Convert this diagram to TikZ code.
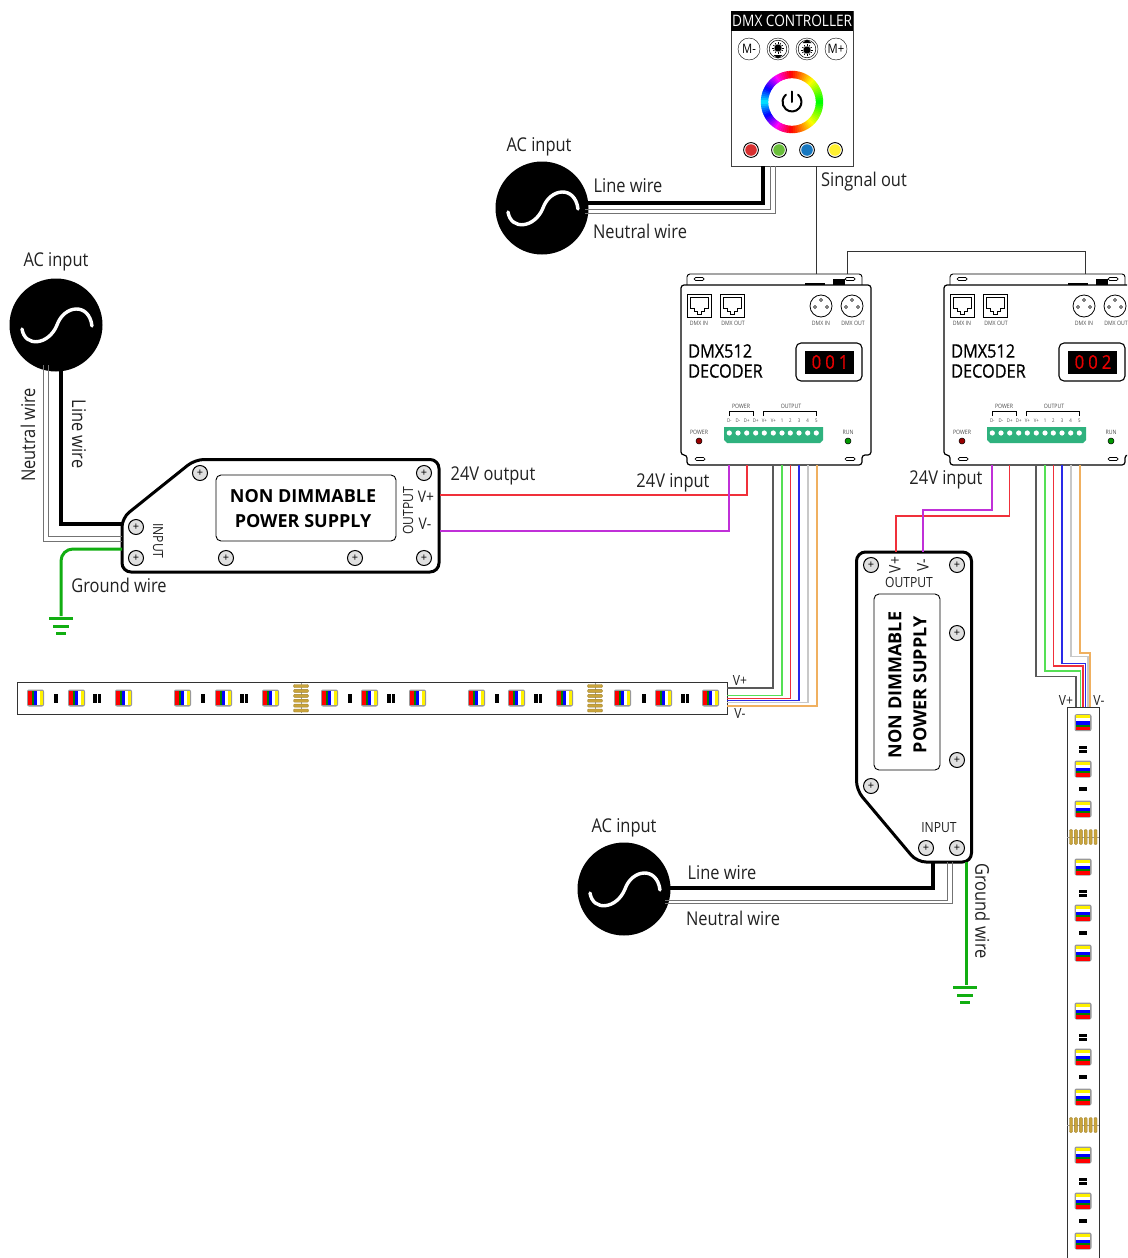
\documentclass[tikz,border=0pt]{standalone}
\usepackage{fontspec}
\setmainfont{Open Sans}
\newfontfamily\lblfont[FakeStretch=0.865]{Open Sans}
\newfontfamily\namefont[FakeStretch=0.88,FakeBold=0.7]{Open Sans}
\usetikzlibrary{calc}
\definecolor{txtgray}{HTML}{222222}
\definecolor{gndgreen}{HTML}{12AE12}
\definecolor{termgreen}{HTML}{2FB27E}
\definecolor{padgold}{HTML}{C9A43C}
\definecolor{psred}{HTML}{F0303A}
\definecolor{psmag}{HTML}{C030D8}
\definecolor{chgreen}{HTML}{55E055}
\definecolor{chblue}{HTML}{2A2AE8}
\definecolor{chgray}{HTML}{C8C8C8}
\definecolor{chorange}{HTML}{F0B060}
\definecolor{ledred}{HTML}{D83030}
\definecolor{ledgreen}{HTML}{6ABF3A}
\definecolor{ledblue}{HTML}{1878C0}
\definecolor{ledyellow}{HTML}{FFF030}
\tikzset{
  lbl/.style={inner sep=0pt, text=txtgray, font=\lblfont\fontsize{19}{21}\selectfont},
  tiny/.style={inner sep=0pt, text=black!70, font=\lblfont\fontsize{6}{7}\selectfont},
  psname/.style={inner sep=0pt, align=center, text=black, font=\bfseries\fontsize{18}{25}\selectfont},
  screwnode/.style={draw, circle, fill=black!12, line width=1pt, minimum size=15pt, inner sep=0pt, font=\fontsize{11}{11}\selectfont},
  hot/.style={line width=3.2pt, black},
  neutral/.style={line width=1pt, black!55},
  gnd/.style={line width=3pt, gndgreen},
  sigwire/.style={line width=1pt, black!80},
  pscase/.style={line width=3pt, rounded corners=9pt, fill=white},
  panel/.style={draw, line width=.9pt, rounded corners=5pt, fill=white},
}
% one AC source with its sine
\newcommand{\acsource}[3]{
  \node[circle, fill=black, minimum size=93pt, inner sep=0pt] (#1) at (#2,#3) {};
  \draw[white, line width=3.4pt, line cap=round] ($(#2,#3)+(-34,4)$) .. controls ($(#2,#3)+(-31,23)$) and ($(#2,#3)+(-7,20)$) .. ($(#2,#3)+(1,0)$)
    .. controls ($(#2,#3)+(8,-20)$) and ($(#2,#3)+(33,-23)$) .. ($(#2,#3)+(36,1)$);
}
% ground symbol, three bars
\newcommand{\gndbars}[2]{
  \draw[gnd] (#1-12,#2) -- (#1+12,#2);
  \draw[gnd] (#1-8,#2+8) -- (#1+8,#2+8);
  \draw[gnd] (#1-5,#2+15) -- (#1+5,#2+15);
}
% led chips, along the strip and across it
\newcommand{\hled}[1]{
  \begin{scope}[shift={(#1,698)}]
    \fill[black!40, rounded corners=2pt] (-8.5,-8.5) rectangle (8.5,8.5);
    \fill[white] (-7.5,-7) rectangle (7.5,7);
    \fill[red] (-7.5,-7) rectangle (-4,7);
    \fill[green!50!black] (-4,-7) rectangle (-2,7);
    \fill[blue] (-2,-7) rectangle (1.5,7);
    \fill[yellow] (4.5,-7) rectangle (7.5,7);
  \end{scope}
}
\newcommand{\vled}[1]{
  \begin{scope}[shift={(1083,#1)}]
    \fill[black!40, rounded corners=2pt] (-8.5,-8.5) rectangle (8.5,8.5);
    \fill[white] (-7,-7.5) rectangle (7,7.5);
    \fill[red] (-7,7.5) rectangle (7,4);
    \fill[green!50!black] (-7,4) rectangle (7,2);
    \fill[blue] (-7,2) rectangle (7,-1.5);
    \fill[yellow] (-7,-4.5) rectangle (7,-7.5);
  \end{scope}
}
% one decoder box
\newcommand{\decoder}[3]{
  \begin{scope}[shift={(#2,0)}]
    \draw[line width=.9pt, fill=white, rounded corners=3pt] (687,285) -- (687,274) -- (862,274) -- (862,285);
    \draw[line width=1.2pt, fill=white, rounded corners=3pt] (681,285) -- (871,285) -- (871,455) -- (862,455) -- (862,465) -- (687,465) -- (687,455) -- (681,455) -- cycle;
    \fill[black] (805,283) rectangle (825,285);
    \fill[black] (833,279) rectangle (845,285);
    \foreach \sx/\sy in {699/279, 850/279, 700/459, 850/459} {
      \draw[line width=.7pt, rounded corners=1.5pt] (\sx-5,\sy-1.5) rectangle (\sx+5,\sy+1.5);
    }
    % rj45 sockets
    \foreach \rx in {687,720} {
      \draw[line width=1pt] (\rx,294) rectangle (\rx+24,317);
      \draw[line width=.8pt] (\rx+3,297) -- (\rx+21,297) -- (\rx+21,308) -- (\rx+17,308) -- (\rx+17,311) -- (\rx+14,311) -- (\rx+14,314) -- (\rx+10,314) -- (\rx+10,311) -- (\rx+7,311) -- (\rx+7,308) -- (\rx+3,308) -- cycle;
    }
    % xlr sockets
    \foreach \rx in {821,852} {
      \draw[line width=.8pt] (\rx,306) circle (11pt);
      \foreach \px/\py in {0/-6, -6/1, 6/1} {
        \draw[line width=.6pt] (\rx+\px,306+\py) circle (1.5pt);
      }
    }
    \node[tiny] (#1rjin) at (699,323) {DMX IN};
    \node[tiny] (#1rjout) at (733,323) {DMX OUT};
    \node[tiny] (#1xlrin) at (821,323) {DMX IN};
    \node[tiny] (#1xlrout) at (853,323) {DMX OUT};
    \node[inner sep=0pt, anchor=west, text=black, font=\namefont\fontsize{18.5}{20}\selectfont] (#1nameA) at (688,351) {DMX512};
    \node[inner sep=0pt, anchor=west, text=black, font=\namefont\fontsize{18.5}{20}\selectfont] (#1nameB) at (688,371) {DECODER};
    \draw[line width=1.1pt, rounded corners=5pt] (796,343) rectangle (862,381);
    \fill[black] (805,351) rectangle (854,374);
    \node[inner sep=0pt, text=red!90!black, font=\namefont\fontsize{19}{20}\selectfont] (#1addr) at (830,362) {#3};
    \node[tiny] (#1power) at (699,432) {POWER};
    \draw[fill=red!60!black, line width=.5pt] (699,441) circle (3pt);
    \node[tiny] (#1run) at (848,432) {RUN};
    \draw[fill=green!60!black, line width=.5pt] (848,441) circle (3pt);
    \node[tiny] (#1powerb) at (741,406) {POWER};
    \node[tiny] (#1outputb) at (791,406) {OUTPUT};
    \draw[line width=.6pt] (729,416) -- (729,411) -- (753,411) -- (753,416);
    \draw[line width=.6pt] (763,416) -- (763,411) -- (816,411) -- (816,416);
    \fill[termgreen] (724,427) -- (823,427) -- (823,440) -- (820,443) -- (727,443) -- (724,440) -- cycle;
    \foreach \tx/\tlab in {729.3/D-, 738/D-, 746.7/D+, 755.7/D+, 764.3/V+, 773.3/V+, 782/1, 790.3/2, 799/3, 807.7/4, 816.3/5} {
      \node[inner sep=0pt, text=black!70, font=\lblfont\fontsize{5}{6}\selectfont] at (\tx,421) {\tlab};
      \fill[white] (\tx,433) circle (2.6pt);
    }
    % where the wires leave
    \coordinate (#1mag) at (729,465);
    \coordinate (#1red) at (746.7,465);
    \coordinate (#1chA) at (773,465);
    \coordinate (#1chB) at (782,465);
    \coordinate (#1chC) at (790.5,465);
    \coordinate (#1chD) at (799,465);
    \coordinate (#1chE) at (808,465);
    \coordinate (#1chF) at (817,465);
    \coordinate (#1sigin) at (816,274);
    \coordinate (#1sigout) at (847,274);
    \coordinate (#1sigtop) at (822,274);
  \end{scope}
}
\begin{document}
\begin{tikzpicture}[x=1pt, y=-1pt]
  \clip (0,0) rectangle (1127,1258);
  \fill[white] (0,0) rectangle (1127,1258);

  % controller
  \draw[line width=1pt, draw=black!75, fill=white] (731,11) rectangle (853,166);
  \node[fill=black, text=white, minimum width=122pt, minimum height=20pt, inner sep=0pt, anchor=north west, font=\lblfont\fontsize{15.8}{16}\selectfont] (ctrlhead) at (731,11) {DMX CONTROLLER};
  \node[draw, circle, minimum size=22pt, inner sep=0pt, font=\lblfont\fontsize{13}{13}\selectfont] (btnA) at (749,49) {M-};
  \node[draw, circle, minimum size=22pt, inner sep=0pt] (btnB) at (778,49) {};
  \node[draw, circle, minimum size=22pt, inner sep=0pt] (btnC) at (807,49) {};
  \node[draw, circle, minimum size=22pt, inner sep=0pt, font=\lblfont\fontsize{13}{13}\selectfont] (btnD) at (836,49) {M+};
  \foreach \bx/\dy in {778/1, 807/-1} {
    \draw[line width=.5pt] (\bx,49) circle (8.8pt);
    \fill[black] (\bx,49-\dy) circle (3.6pt);
    \foreach \a in {0,30,...,330} {
      \draw[line width=.6pt] ($(\bx,49-\dy)+(\a:3.6pt)$) -- ($(\bx,49-\dy)+(\a:5.6pt)$);
    }
    \fill[black] (\bx-4.5,49+\dy*6) -- (\bx+4.5,49+\dy*6) -- (\bx,49+\dy*9.5) -- cycle;
  }
  % colour ring
  \foreach \a in {0,4,...,176} {
    \pgfmathsetmacro{\huea}{\a<=90 ? (120-1.33*\a)/360 : (1+(0-2*(\a-90))/360)}
    \pgfmathsetmacro{\hueb}{\huea<0 ? \huea+1 : \huea}
    \definecolor{ringcol}{hsb}{\hueb,1,1}
    \draw[ringcol, line width=7.4pt] ({792+27.5*cos(\a)},{102-27.5*sin(\a)}) -- ({792+27.5*cos(\a+5)},{102-27.5*sin(\a+5)});
    \draw[ringcol, line width=7.4pt] ({792+27.5*cos(\a)},{102+27.5*sin(\a)}) -- ({792+27.5*cos(\a+5)},{102+27.5*sin(\a+5)});
  }
  \draw[line width=2pt, line cap=round] (798.1,94.7) arc[start angle=50, end angle=-230, radius=9.5pt];
  \draw[line width=2pt, line cap=round] (792,91.5) -- (792,102);
  \foreach \lx/\lc in {751/ledred, 779/ledgreen, 807/ledblue, 835/ledyellow} {
    \draw[line width=.9pt, fill=white] (\lx,150) circle (7.4pt);
    \fill[\lc] (\lx,150) circle (5.8pt);
  }
  \coordinate (ctrlline) at (763,166);
  \coordinate (ctrlnA) at (770,166);
  \coordinate (ctrlnB) at (775,166);
  \coordinate (ctrlsig) at (816,166);

  % sources
  \acsource{acTop}{542}{208}
  \acsource{acLeft}{56}{325}
  \acsource{acLow}{624}{889}

  % decoders
  \decoder{decA}{0}{0\hspace{4pt}0\hspace{4pt}1}
  \decoder{decB}{263}{0\hspace{4pt}0\hspace{4pt}2}

  % left supply
  \draw[pscase] (122,518) -- (195,459.5) -- (439,459.5) -- (439,572) -- (122,572) -- cycle;
  \node[panel, minimum width=180pt, minimum height=66pt, inner sep=0pt] (psAbox) at (306,508) {};
  \node[psname] (psAname) at (303,508.5) {NON DIMMABLE\\POWER SUPPLY};
  \node[screwnode] (sA) at (200,473) {+};
  \node[screwnode] (sB) at (424,473) {+};
  \node[screwnode] (sC) at (136,527) {+};
  \node[screwnode] (sD) at (136,558) {+};
  \node[screwnode] (sE) at (226,558) {+};
  \node[screwnode] (sF) at (355,558) {+};
  \node[screwnode] (sG) at (424,558) {+};
  \node[lbl, font=\lblfont\fontsize{14}{15}\selectfont, rotate=90] (psAout) at (408,511) {OUTPUT};
  \node[lbl, font=\lblfont\fontsize{14}{15}\selectfont, rotate=-90] (psAin) at (158,541) {INPUT};
  \node[lbl, font=\lblfont\fontsize{16}{17}\selectfont] (psAvp) at (426,497) {V+};
  \node[lbl, font=\lblfont\fontsize{16}{17}\selectfont] (psAvm) at (425,524) {V-};
  \coordinate (psAplus) at (440,495);
  \coordinate (psAminus) at (440,531);
  \coordinate (psAline) at (122,524);
  \coordinate (psAnA) at (122,536);
  \coordinate (psAnB) at (122,541);
  \coordinate (psAgnd) at (122,549);

  % lower supply
  \draw[pscase] (856.5,552) -- (971.5,552) -- (971.5,862) -- (917,862) -- (856.5,790) -- cycle;
  \node[panel, minimum width=66pt, minimum height=176pt, inner sep=0pt] (psBbox) at (907,682) {};
  \node[psname, rotate=90] (psBname) at (907.5,685) {NON DIMMABLE\\POWER SUPPLY};
  \node[screwnode] (tA) at (871,565) {+};
  \node[screwnode] (tB) at (957,565) {+};
  \node[screwnode] (tC) at (957,633) {+};
  \node[screwnode] (tD) at (957,760) {+};
  \node[screwnode] (tE) at (871,786) {+};
  \node[screwnode] (tF) at (926,848) {+};
  \node[screwnode] (tG) at (957,848) {+};
  \node[lbl, font=\lblfont\fontsize{14}{15}\selectfont] (psBout) at (909,582.5) {OUTPUT};
  \node[lbl, font=\lblfont\fontsize{14}{15}\selectfont] (psBin) at (939,827.5) {INPUT};
  \node[lbl, font=\lblfont\fontsize{16}{17}\selectfont, rotate=90] (psBvp) at (895,565) {V+};
  \node[lbl, font=\lblfont\fontsize{16}{17}\selectfont, rotate=90] (psBvm) at (923,565) {V-};
  \coordinate (psBplus) at (896,552);
  \coordinate (psBminus) at (923,552);
  \coordinate (psBline) at (933,862);
  \coordinate (psBnA) at (947,862);
  \coordinate (psBnB) at (952,862);
  \coordinate (psBgnd) at (966.5,862);

  % horizontal strip
  \draw[line width=.9pt, draw=black!80, fill=white] (17,682) rectangle (727,714);
  \foreach \lx in {35.5,76.5,123.5,182.5,223.5,270.5,329.5,369.5,417.5,476.5,516.5,564.5,622.5,663.5,710.5} {
    \hled{\lx}
  }
  \foreach \mx in {56,203,350,497,644} {
    \fill[black] (\mx-1.8,694) rectangle (\mx+1.8,702.5);
  }
  \foreach \mx in {97,244,391,538,685} {
    \fill[black] (\mx-3.8,694) rectangle (\mx-.5,702.5);
    \fill[black] (\mx+.5,694) rectangle (\mx+3.8,702.5);
  }
  \foreach \gx in {301,595} {
    \draw[black!40, line width=.7pt] (\gx,683) -- (\gx,713);
    \foreach \n in {0,...,5} {
      \draw[fill=padgold, draw=padgold!80!black, line width=.4pt, rounded corners=1pt] (\gx-7.5,684.5+\n*4.9) rectangle (\gx+7.5,687.5+\n*4.9);
    }
  }
  \coordinate (stripAa) at (727,688);
  \coordinate (stripAb) at (727,695.7);
  \coordinate (stripAc) at (727,698.3);
  \coordinate (stripAd) at (727,700.5);
  \coordinate (stripAe) at (727,702.8);
  \coordinate (stripAf) at (727,706);
  \node[lbl, font=\lblfont\fontsize{14}{15}\selectfont] (stripAvp) at (740,680) {V+};
  \node[lbl, font=\lblfont\fontsize{14}{15}\selectfont] (stripAvm) at (740,713) {V-};

  % vertical strip
  \draw[line width=.9pt, draw=black!80, fill=white] (1067,707) rectangle (1099,1270);
  \foreach \ly in {722.7,769,809,867,913,953,1011,1057,1097,1155,1201,1241} {
    \vled{\ly}
  }
  \foreach \my in {789,933,1077,1221} {
    \fill[black] (1079,\my-1.8) rectangle (1087,\my+1.8);
  }
  \foreach \my in {749,893,1037,1181} {
    \fill[black] (1079,\my-3.5) rectangle (1087,\my-.5);
    \fill[black] (1079,\my+.5) rectangle (1087,\my+3.5);
  }
  \foreach \gy in {837,1125} {
    \draw[black!40, line width=.7pt] (1067,\gy) -- (1099,\gy);
    \foreach \n in {0,...,5} {
      \draw[fill=padgold, draw=padgold!80!black, line width=.4pt, rounded corners=1pt] (1069.5+\n*4.9,\gy-7.5) rectangle (1072.5+\n*4.9,\gy+7.5);
    }
  }
  \coordinate (stripBa) at (1076,707);
  \coordinate (stripBb) at (1080.7,707);
  \coordinate (stripBc) at (1083,707);
  \coordinate (stripBd) at (1085.7,707);
  \coordinate (stripBe) at (1088,707);
  \coordinate (stripBf) at (1090,707);
  \node[lbl, font=\lblfont\fontsize{14}{15}\selectfont] (stripBvp) at (1066,700) {V+};
  \node[lbl, font=\lblfont\fontsize{14}{15}\selectfont] (stripBvm) at (1099,700) {V-};

  % mains wiring
  \coordinate (acTopL) at (580,203);
  \coordinate (acTopA) at (585,209);
  \coordinate (acTopB) at (585,213);
  \coordinate (acLeftL) at (61,365);
  \coordinate (acLeftA) at (48,365);
  \coordinate (acLeftB) at (43,365);
  \coordinate (acLowL) at (665,888);
  \coordinate (acLowA) at (665,900);
  \coordinate (acLowB) at (665,903);
  \coordinate (gndA) at (61,616);
  \coordinate (gndB) at (966.5,985);
  \draw[neutral] (acTopA) -| (ctrlnA);
  \draw[neutral] (acTopB) -| (ctrlnB);
  \draw[hot] (acTopL) -| (ctrlline);
  \draw[neutral] (acLeftA) |- (psAnA);
  \draw[neutral] (acLeftB) |- (psAnB);
  \draw[hot] (acLeftL) |- (psAline);
  \draw[neutral] (acLowA) -| (psBnA);
  \draw[neutral] (acLowB) -| (psBnB);
  \draw[hot] (acLowL) -| (psBline);
  \draw[gnd, rounded corners=12pt] (psAgnd) -| (gndA);
  \draw[gnd] (psBgnd) -- (gndB);
  \gndbars{61}{618}
  \gndbars{965}{987}

  % dmx signal
  \draw[sigwire] (ctrlsig) -- (decAsigin);
  \coordinate (sigA) at (847,251);
  \draw[sigwire] (decAsigout) -- (sigA) -| (decBsigtop);

  % low voltage
  \draw[psred, line width=1.6pt] (psAplus) -| (decAred);
  \draw[psmag, line width=1.6pt] (psAminus) -| (decAmag);
  \coordinate (decBredm) at (1009.7,516);
  \coordinate (decBmagm) at (992,510);
  \draw[psred, line width=1.2pt] (decBred) -- (decBredm) -| (psBplus);
  \draw[psmag, line width=1.2pt] (decBmag) -- (decBmagm) -| (psBminus);

  % outputs to strip one
  \draw[black!65, line width=1.1pt] (decAchA) |- (stripAa);
  \draw[chgreen, line width=1.1pt] (decAchB) |- (stripAb);
  \draw[psred, line width=1.1pt] (decAchC) |- (stripAc);
  \draw[chblue, line width=1.1pt] (decAchD) |- (stripAd);
  \draw[chgray, line width=1.1pt] (decAchE) |- (stripAe);
  \draw[chorange, line width=1.1pt] (decAchF) |- (stripAf);

  % outputs to strip two
  \coordinate (elbA) at (1036,676.7);
  \coordinate (elbB) at (1045,671);
  \coordinate (elbC) at (1053.5,666);
  \coordinate (elbD) at (1062,663.7);
  \coordinate (elbE) at (1071,656.7);
  \coordinate (elbF) at (1080,653);
  \draw[black!65, line width=1.1pt] (decBchA) -- (elbA) -| (stripBa);
  \draw[chgreen, line width=1.1pt] (decBchB) -- (elbB) -| (stripBb);
  \draw[psred, line width=1.1pt] (decBchC) -- (elbC) -| (stripBc);
  \draw[chblue, line width=1.1pt] (decBchD) -- (elbD) -| (stripBd);
  \draw[chgray, line width=1.1pt] (decBchE) -- (elbE) -| (stripBe);
  \draw[chorange, line width=1.1pt] (decBchF) -- (elbF) -| (stripBf);

  % labels
  \node[lbl] (txtA) at (539,146.5) {AC input};
  \node[lbl] (txtB) at (628,186) {Line wire};
  \node[lbl] (txtC) at (640,231) {Neutral wire};
  \node[lbl] (txtD) at (864,181.5) {Singnal out};
  \node[lbl] (txtE) at (56,261.5) {AC input};
  \node[lbl, rotate=90] (txtF) at (28,435) {Neutral wire};
  \node[lbl, rotate=-90] (txtG) at (79,434) {Line wire};
  \node[lbl] (txtH) at (119,585.5) {Ground wire};
  \node[lbl] (txtI) at (493,475.5) {24V output};
  \node[lbl] (txtJ) at (673,483) {24V input};
  \node[lbl] (txtK) at (946,479.5) {24V input};
  \node[lbl] (txtL) at (624,827.5) {AC input};
  \node[lbl] (txtM) at (722,873) {Line wire};
  \node[lbl] (txtN) at (733,918) {Neutral wire};
  \node[lbl, rotate=-90] (txtO) at (982.5,911) {Ground wire};
\end{tikzpicture}
\end{document}
